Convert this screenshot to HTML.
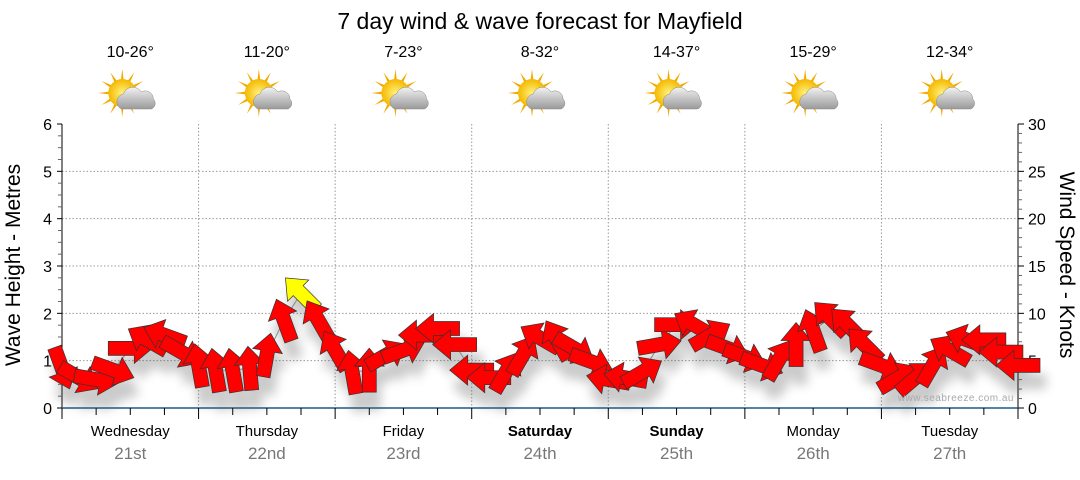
<!DOCTYPE html>
<html><head><meta charset="utf-8"><style>
body{margin:0;background:#fff;width:1080px;height:475px;overflow:hidden;font-family:"Liberation Sans",sans-serif}
</style></head><body>
<svg id="chart" width="1080" height="475" viewBox="0 0 1080 475" xmlns="http://www.w3.org/2000/svg" font-family="Liberation Sans, sans-serif">
<defs>
<filter id="shadow" x="-50%" y="-50%" width="200%" height="200%"><feGaussianBlur stdDeviation="5"/></filter>
<radialGradient id="sunG" cx="50%" cy="50%" r="50%"><stop offset="0" stop-color="#fff27a"/><stop offset="1" stop-color="#f5b800"/></radialGradient>
<linearGradient id="cloudG" x1="0" y1="0" x2="0" y2="1"><stop offset="0" stop-color="#f2f2f2"/><stop offset="1" stop-color="#9a9a9a"/></linearGradient>
</defs>
<text x="540" y="29" font-size="23" text-anchor="middle" fill="#000">7 day wind &amp; wave forecast for Mayfield</text>
<g id="grid"></g>
<g id="axes"></g>
<g id="days"></g>
<g id="shadows" filter="url(#shadow)" opacity="0.3"></g>
<polyline id="windline" fill="none" stroke="#888" stroke-width="1"></polyline>
<g id="arrows"></g>
<text x="1014" y="401" font-size="10" text-anchor="end" fill="#aaa" letter-spacing="0.5">www.seabreeze.com.au</text>
<text transform="translate(20,265) rotate(-90)" font-size="21" text-anchor="middle">Wave Height - Metres</text>
<text transform="translate(1060,265) rotate(90)" font-size="21" text-anchor="middle">Wind Speed - Knots</text>
</svg>
<script>
const dayNames=["Wednesday","Thursday","Friday","Saturday","Sunday","Monday","Tuesday"];
const dayDates=["21st","22nd","23rd","24th","25th","26th","27th"];
const dayBold=[false,false,false,true,true,false,false];
const tempLabels=["10-26°","11-20°","7-23°","8-32°","14-37°","15-29°","12-34°"];
const waveTicks=[0,1,2,3,4,5,6];
const windTicks=[0,5,10,15,20,25,30];
const windSpeed=[4.2,3.2,3.0,4.0,6.3,7.2,7.7,5.9,
 4.5,4.0,4.0,4.2,5.6,9.3,12.1,9.3,
 6.1,3.8,4.0,5.6,6.1,7.7,8.4,6.7,
 4.0,3.2,3.8,5.6,7.4,7.2,6.3,4.9,
 3.0,3.2,3.8,6.7,8.8,8.8,7.7,6.3,
 5.4,4.5,5.1,6.7,8.2,9.5,8.8,6.7,
 4.5,3.2,3.2,4.5,6.1,7.2,7.2,5.9,4.5];
const windDir=[-70,-30,-10,-20,0,150,160,-30,
 100,100,100,95,80,110,135,120,
 120,100,90,30,20,180,180,180,
 180,180,60,60,150,120,-30,-20,
 170,170,30,10,0,150,30,-20,
 -20,-20,60,90,110,135,135,135,
 -20,30,40,60,150,160,180,180,180];

const NS="http://www.w3.org/2000/svg";
const X0=62,X1=1018,Y0=408,Y1=124;
const xIdx=i=>X0+(X1-X0)*i/56;
const yWave=m=>Y0-(Y0-Y1)*m/6;
const yWind=k=>Y0-(Y0-Y1)*k/30;
const dayX=d=>X0+(X1-X0)*d/7;
function mk(tag,attrs,parent){const e=document.createElementNS(NS,tag);for(const k in attrs)e.setAttribute(k,attrs[k]);parent.appendChild(e);return e;}
const grid=document.getElementById('grid'),axes=document.getElementById('axes'),days=document.getElementById('days');
waveTicks.forEach(m=>{if(m>0&&m<6){const l=mk('line',{x1:X0,x2:X1,y1:yWave(m),y2:yWave(m),stroke:'#999','stroke-dasharray':'1.5,2','stroke-width':1},grid);

}});
for(let d=1;d<7;d++){const l=mk('line',{x1:dayX(d),x2:dayX(d),y1:Y1,y2:Y0,stroke:'#999','stroke-dasharray':'1.5,2','stroke-width':1},grid);

}
mk('line',{x1:X0,x2:X0,y1:Y1,y2:Y0,stroke:'#000'},axes);
mk('line',{x1:X1,x2:X1,y1:Y1,y2:Y0,stroke:'#000'},axes);
const bl=mk('line',{x1:X0,x2:X1,y1:Y0,y2:Y0,stroke:'#1a5a8a','stroke-width':1.5},axes);


waveTicks.forEach(m=>{mk('line',{x1:X0-5,x2:X0,y1:yWave(m),y2:yWave(m),stroke:'#000'},axes);
const t=mk('text',{x:X0-10,y:yWave(m)+6,'font-size':16,'text-anchor':'end'},axes);t.textContent=m;

});
for(let m=0;m<6;m+=0.25){if(m%1)mk('line',{x1:X0-4,x2:X0,y1:yWave(m),y2:yWave(m),stroke:'#666'},axes);}
windTicks.forEach(k=>{mk('line',{x1:X1,x2:X1+6,y1:yWind(k),y2:yWind(k),stroke:'#000'},axes);
const t=mk('text',{x:X1+10,y:yWind(k)+6,'font-size':16},axes);t.textContent=k;

});
for(let k=0;k<30;k++){if(k%5)mk('line',{x1:X1,x2:X1+4,y1:yWind(k),y2:yWind(k),stroke:'#666'},axes);}
for(let i=0;i<=28;i++){const x=X0+(X1-X0)*i/28;const major=i%4===0;mk('line',{x1:x,x2:x,y1:Y0,y2:Y0+(major?11:7),stroke:'#000'},axes);}
dayNames.forEach((n,d)=>{const cx=dayX(d+0.5);
const t=mk('text',{x:cx,y:436,'font-size':15,'text-anchor':'middle','font-weight':dayBold[d]?'bold':'normal'},days);t.textContent=n;


const dt=mk('text',{x:cx,y:459,'font-size':17,'text-anchor':'middle',fill:'#777'},days);dt.textContent=dayDates[d];


const tp=mk('text',{x:cx,y:57,'font-size':16,'text-anchor':'middle'},days);tp.textContent=tempLabels[d];


const g=mk('g',{transform:`translate(${cx-2},97)`},days);


for(let a=0;a<12;a++){const ang=a*30*Math.PI/180;mk('polygon',{points:`${-3*Math.sin(ang)},${3*Math.cos(ang)} ${24*Math.cos(ang)},${24*Math.sin(ang)} ${3*Math.sin(ang)},${-3*Math.cos(ang)}`,fill:'#f2a900',transform:'translate(-6,-4)'},g);}
mk('circle',{cx:-6,cy:-4,r:14,fill:'url(#sunG)'},g);
mk('path',{d:'M-7,12 a8,8 0 0 1 2,-15 a10,10 0 0 1 18,-2 a8,8 0 0 1 12,7 a6,6 0 0 1 -2,10 z',fill:'url(#cloudG)',stroke:'#888','stroke-width':0.5},g);
});
const shadows=document.getElementById('shadows'),arrows=document.getElementById('arrows');
const pts=[];
const arrowPts="-22,-7 4,-7 4,-15 22,0 4,15 4,7 -22,7";
windSpeed.forEach((k,i)=>{const x=xIdx(i),y=yWind(k);pts.push(x+','+y);
mk('polygon',{points:arrowPts,fill:'#555',transform:`translate(${x+4},${y+16}) rotate(${-windDir[i]}) scale(1.1)`},shadows);});
document.getElementById('windline').setAttribute('points',pts.join(' '));
windSpeed.forEach((k,i)=>{const x=xIdx(i),y=yWind(k);
const a=mk('polygon',{points:arrowPts,fill:k>=12?'#ffff00':'#ff0000',stroke:'#333','stroke-width':0.7,transform:`translate(${x},${y}) rotate(${-windDir[i]})`},arrows);

});
</script>
</body></html>
